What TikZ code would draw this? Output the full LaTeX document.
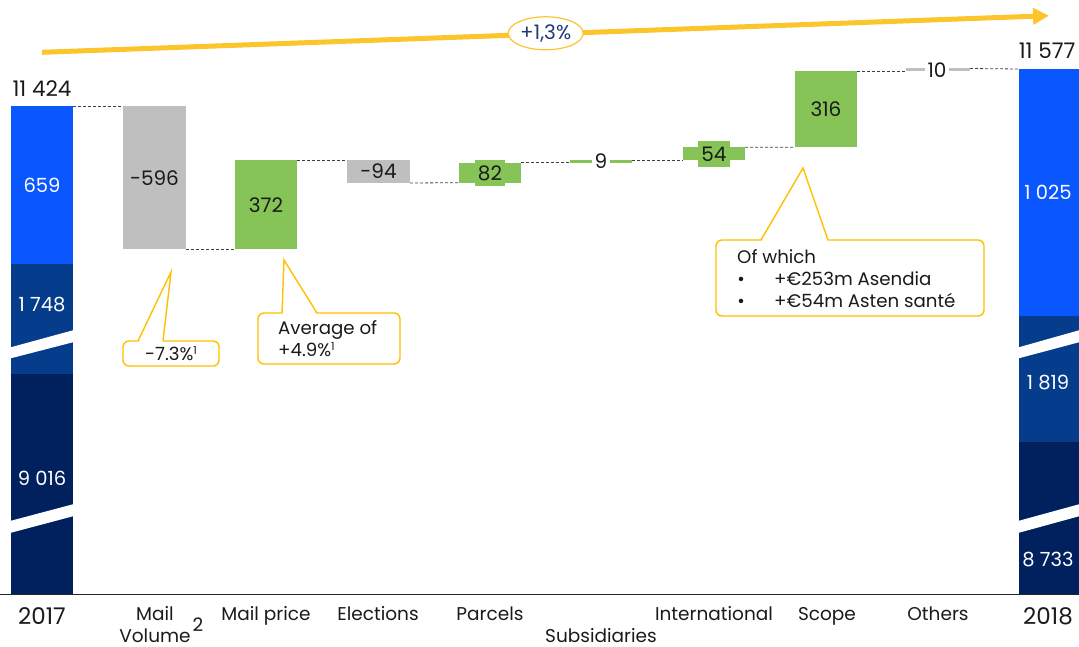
\documentclass[tikz,border=0pt]{standalone}
\usepackage{fontspec}
\setmainfont{Poppins}
\usetikzlibrary{fit,shapes.geometric,arrows.meta}
\definecolor{bblue}{HTML}{0A57FF}
\definecolor{mblue}{HTML}{063C8C}
\definecolor{dblue}{HTML}{00205E}
\definecolor{bgray}{HTML}{BFBFBF}
\definecolor{bgreen}{HTML}{86C457}
\definecolor{ayellow}{HTML}{FBC52B}
\definecolor{cyellow}{HTML}{FFC000}
\definecolor{ptxt}{HTML}{1F3B73}
\definecolor{txt}{HTML}{1A1A1A}
\begin{document}
\begin{tikzpicture}[x=1pt,y=-1pt,
  bar/.style={inner sep=0pt, outer sep=0pt, draw=none, fill=#1},
  val/.style={font=\fontsize{20}{24}\selectfont, text=txt, inner sep=1pt},
  wval/.style={font=\fontsize{19.5}{24}\selectfont, text=white},
  tot/.style={font=\fontsize{21.5}{24}\selectfont, text=txt},
  cat/.style={font=\fontsize{18.5}{20}\selectfont, text=txt, text height=13pt, text depth=4pt, inner sep=0pt},
  yr/.style={font=\fontsize{23}{24}\selectfont, text=txt, text height=16pt, text depth=0pt, inner sep=0pt},
  conn/.style={densely dashed, black!75, line width=0.8pt},
  cbox/.style={draw=cyellow, line width=1.4pt, rounded corners=6pt, fill=white, inner sep=0pt},
  ctxt/.style={font=\fontsize{18.2}{20}\selectfont, text=txt, text height=13pt, text depth=4pt},
]
\newcommand{\supone}{\raisebox{6pt}{\fontsize{11}{11}\selectfont 1}}
\useasboundingbox (0,0) rectangle (1079,647);

% trend arrow
\coordinate (as) at (42,52.3);
\coordinate (ae) at (1049,15.7);
\draw[ayellow, line width=5pt, -{Triangle[length=16pt,width=16pt]}] (as) -- (ae);
\node[ellipse, draw=ayellow, line width=1.2pt, fill=white, minimum width=75pt, minimum height=33pt, inner sep=0pt, text=ptxt, font=\fontsize{20}{22}\selectfont] (pct) at (545.7,33.3) {+1,3\%};

% 2017 bar
\node[bar=bblue, fit={(11,106)(73,264)}] (a1) {};
\node[bar=mblue, fit={(11,264)(73,374)}] (a2) {};
\node[bar=dblue, fit={(11,374)(73,594)}] (a3) {};
\fill[white] (10,347.5) -- (74,330) -- (74,342) -- (10,358.5) -- cycle;
\fill[white] (10,521) -- (74,504) -- (74,516) -- (10,533) -- cycle;
\node[tot] (a0) at (42,89) {11 424};
\node[wval] (a1v) at (42,185) {659};
\node[wval] (a2v) at (42,305) {1 748};
\node[wval] (a3v) at (42,478) {9 016};

% 2018 bar
\node[bar=bblue, fit={(1019,69)(1079,316)}] (b1) {};
\node[bar=mblue, fit={(1019,316)(1079,442)}] (b2) {};
\node[bar=dblue, fit={(1019,442)(1079,594)}] (b3) {};
\fill[white] (1018,347.5) -- (1080,330) -- (1080,342) -- (1018,358.5) -- cycle;
\fill[white] (1018,521) -- (1080,504) -- (1080,516) -- (1018,533) -- cycle;
\node[tot] (b0) at (1047,51) {11 577};
\node[wval] (b1v) at (1048,192) {1 025};
\node[wval] (b2v) at (1048,383) {1 819};
\node[wval] (b3v) at (1048,560) {8 733};

% waterfall bars
\node[bar=bgray,  fit={(123,106)(186,249.3)}] (mv) {};
\node[bar=bgreen, fit={(235,160)(297,249.3)}] (mp) {};
\node[bar=bgray,  fit={(347,160)(410,183)}] (el) {};
\node[bar=bgreen, fit={(459,162.7)(521,182.7)}] (pa) {};
\node[bar=bgreen, fit={(570,160.5)(632,162.7)}] (su) {};
\node[bar=bgreen, fit={(683,147.3)(745,160.5)}] (in) {};
\node[bar=bgreen, fit={(795,71.3)(857,147.3)}] (sc) {};
\node[bar=bgray,  fit={(906,68.5)(970,71.3)}] (ot) {};

% connectors
\draw[conn] (a1.north east) -- (mv.north west);
\draw[conn] (mv.south east) -- (mp.south west);
\draw[conn] (mp.north east) -- (el.north west);
\draw[conn] (el.south east) -- (pa.south west);
\draw[conn] (pa.north east) -- (su.south west);
\draw[conn] (su.north east) -- (in.south west);
\draw[conn] (in.north east) -- (sc.south west);
\draw[conn] (sc.north east) -- (ot.south west);
\draw[conn] (ot.north east) -- (b1.north west);

% values
\node[val] (mvv) at (mv.center) {-596};
\node[val] (mpv) at (266,205) {372};
\node[val] (elv) at (el.center) {-94};
\node[val, fill=bgreen, inner xsep=3pt, minimum height=26pt] (pav) at (490,173) {82};
\node[val, fill=white, inner xsep=3pt] (suv) at (601,161.5) {9};
\node[val, fill=bgreen, inner xsep=3pt, minimum height=26pt] (inv) at (714,154) {54};
\node[val] (scv) at (sc.center) {316};
\node[val, fill=white, inner xsep=3pt] (otv) at (937,70) {10};

% axis
\coordinate (x0) at (0,594.5);
\coordinate (x1) at (1079,594.5);
\draw[black!85, line width=1.8pt] (x0) -- (x1);

% categories
\node[yr] (c17) at (42,616) {2017};
\node[cat] (cmv1) at (155,616) {Mail};
\node[cat] (cmv2) at (155,638) {Volume};
\node[cat] (cmv3) at (198,627) {2};
\node[cat] (cmp) at (266,616) {Mail price};
\node[cat] (cel) at (378,616) {Elections};
\node[cat] (cpa) at (490,616) {Parcels};
\node[cat] (csu) at (601,638) {Subsidiaries};
\node[cat] (cin) at (714,616) {International};
\node[cat] (csc) at (827,616) {Scope};
\node[cat] (cot) at (938,616) {Others};
\node[yr] (c18) at (1048,616) {2018};

% callout 1
\node[cbox, fit={(123,341)(219,366)}] (k1) {};
\fill[white] (138.5,342.5) -- (171,272) -- (162.5,342.5) -- cycle;
\draw[cyellow, line width=1.4pt, line join=miter] (138,341) -- (171,272) -- (163,341);
\node[ctxt] (k1t) at (171,356) {-7.3\%\supone};

% callout 2
\node[cbox, fit={(258,313)(400,364)}] (k2) {};
\fill[white] (282.5,314.5) -- (284,260) -- (316.5,314.5) -- cycle;
\draw[cyellow, line width=1.4pt] (282,313) -- (284,260) -- (317,313);
\node[ctxt, anchor=west, inner sep=0pt] (k2a) at (278,330) {Average of};
\node[ctxt, anchor=west, inner sep=0pt] (k2b) at (278,352) {+4.9\%\supone};

% callout 3
\node[cbox, fit={(716,240)(984,316)}] (k3) {};
\fill[white] (761.5,241.5) -- (803,168) -- (827.5,241.5) -- cycle;
\draw[cyellow, line width=1.4pt] (761,240) -- (803,168) -- (828,240);
\node[ctxt, anchor=west, inner sep=0pt] (k3a) at (737,258.5) {Of which};
\node[ctxt] (k3b1) at (741,280.5) {•};
\node[ctxt, anchor=west, inner sep=0pt] (k3b) at (774,280.5) {+€253m Asendia};
\node[ctxt] (k3c1) at (741,302.5) {•};
\node[ctxt, anchor=west, inner sep=0pt] (k3c) at (774,302.5) {+€54m Asten santé};
\end{tikzpicture}
\end{document}
